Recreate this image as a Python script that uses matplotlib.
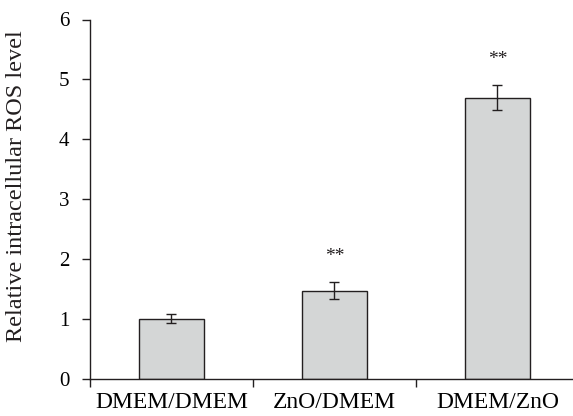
import numpy as np
import matplotlib
matplotlib.use("Agg")
import matplotlib.pyplot as plt

plt.rcParams['font.family'] = ['Liberation Serif', 'DejaVu Serif']

groups = ["DMEM/DMEM", "ZnO/DMEM", "DMEM/ZnO"]
ros = [1.0, 1.47, 4.69]
ros_err = [0.08, 0.14, 0.21]
marks = ["", "**", "**"]

ink = "#231f20"

fig = plt.figure(figsize=(5.73, 4.16), dpi=100)
# axes run past the right edge, like the original figure crop
ax = fig.add_axes([90 / 573, 37.5 / 416, 489 / 573, 359 / 416])

x = np.arange(len(groups))
ax.bar(x, ros, width=0.4, color="#d4d6d6", edgecolor=ink, linewidth=1.0, zorder=2)
ax.errorbar(x, ros, yerr=ros_err, fmt="none", ecolor=ink, elinewidth=1.0,
            capsize=3.6, capthick=1.0, zorder=3)

for xi, v, e, m in zip(x, ros, ros_err, marks):
    if m:
        ax.text(xi, v + e + 0.35, m, ha="center", va="baseline", fontsize=14, color=ink)

ax.set_xlim(-0.5, 2.5)
ax.set_ylim(0, 6)
ax.set_yticks(range(0, 7))
ax.set_xticks(x)
ax.set_xticklabels(groups, fontsize=17)
ax.set_xticks(np.arange(-0.5, 3.0, 1.0), minor=True)
ax.tick_params(axis="x", which="major", length=0, pad=9.5)
ax.tick_params(axis="x", which="minor", length=5.5, width=1.0, color=ink, direction="out")
ax.tick_params(axis="y", length=5.8, width=1.0, color=ink, pad=9, labelsize=15)

for s in ["top", "right"]:
    ax.spines[s].set_visible(False)
for s in ["left", "bottom"]:
    ax.spines[s].set_color(ink)
    ax.spines[s].set_linewidth(1.0)

ax.set_ylabel("Relative intracellular ROS level", fontsize=17.5, color=ink)
ax.yaxis.set_label_coords(-0.128, 0.535)

fig.savefig("out.png", dpi=100)
